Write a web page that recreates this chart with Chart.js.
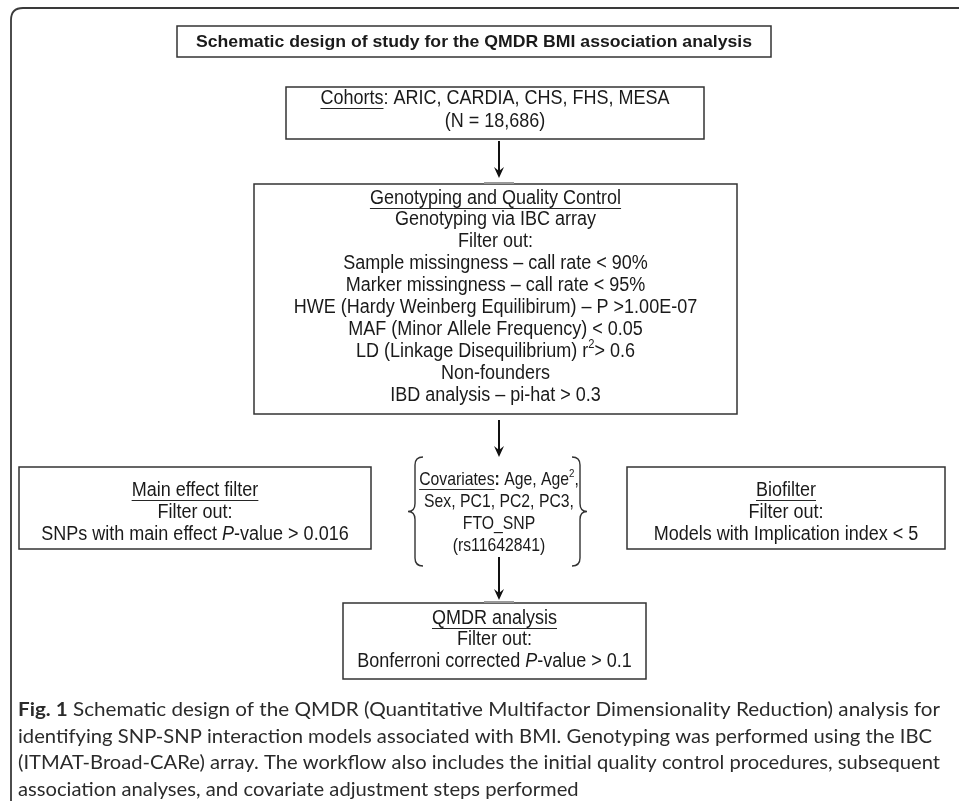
<!DOCTYPE html>
<html>
<head>
<meta charset="utf-8">
<script src="https://cdn.jsdelivr.net/npm/chart.js@4"></script>
<style>
  html, body { margin: 0; padding: 0; background: #fff; }
  canvas { display: block; }
</style>
</head>
<body>
<canvas id="flow" width="959" height="801"></canvas>
<script>
// text of each step; segments: u = underline, i = italic, b = bold, sup = superscript
const titleLines = [[{ t: 'Schematic design of study for the QMDR BMI association analysis', b: true }]];

const cohortLines = [
    [{ t: 'Cohorts', u: true }, { t: ': ARIC, CARDIA, CHS, FHS, MESA' }],
    [{ t: '(N = 18,686)' }]
];

const qcLines = [
    [{ t: 'Genotyping and Quality Control', u: true }],
    [{ t: 'Genotyping via IBC array' }],
    [{ t: 'Filter out:' }],
    [{ t: 'Sample missingness \u2013 call rate < 90%' }],
    [{ t: 'Marker missingness \u2013 call rate < 95%' }],
    [{ t: 'HWE (Hardy Weinberg Equilibirum) \u2013 P >1.00E-07' }],
    [{ t: 'MAF (Minor Allele Frequency) < 0.05' }],
    [{ t: 'LD (Linkage Disequilibrium) r' }, { t: '2', sup: true }, { t: '> 0.6' }],
    [{ t: 'Non-founders' }],
    [{ t: 'IBD analysis \u2013 pi-hat > 0.3' }]
];

const mainEffectLines = [
    [{ t: 'Main effect filter', u: true }],
    [{ t: 'Filter out:' }],
    [{ t: 'SNPs with main effect ' }, { t: 'P', i: true }, { t: '-value > 0.016' }]
];

const covariateLines = [
    [{ t: 'Covariates', u: true }, { t: ':', b: true }, { t: ' Age, Age' }, { t: '2', sup: true }, { t: ',' }],
    [{ t: 'Sex, PC1, PC2, PC3,' }],
    [{ t: 'FTO_SNP' }],
    [{ t: '(rs11642841)' }]
];

const biofilterLines = [
    [{ t: 'Biofilter', u: true }],
    [{ t: 'Filter out:' }],
    [{ t: 'Models with Implication index < 5' }]
];

const qmdrLines = [
    [{ t: 'QMDR analysis', u: true }],
    [{ t: 'Filter out:' }],
    [{ t: 'Bonferroni corrected ' }, { t: 'P', i: true }, { t: '-value > 0.1' }]
];

const captionLines = [
    [{ t: 'Fig. 1', b: true }, { t: ' Schematic design of the QMDR (Quantitative Multifactor Dimensionality Reduction) analysis for' }],
    [{ t: 'identifying SNP-SNP interaction models associated with BMI. Genotyping was performed using the IBC' }],
    [{ t: '(ITMAT-Broad-CARe) array. The workflow also includes the initial quality control procedures, subsequent' }],
    [{ t: 'association analyses, and covariate adjustment steps performed' }]
];

// layout in page units (the scales map 0..959 x 0..801)
const boxes = [
    { lines: titleLines, x0: 177, x1: 771, y0: 26, y1: 57, first: 42, step: 21, size: 17, fit: 556 },
    { lines: cohortLines, x0: 286, x1: 704, y0: 87, y1: 139, first: 98, step: 23, size: 20, hs: 0.9 },
    { lines: qcLines, x0: 254, x1: 737, y0: 184, y1: 414, first: 198, step: 21.9, size: 20, hs: 0.9 },
    { lines: mainEffectLines, x0: 19, x1: 371, y0: 467, y1: 549, first: 490, step: 22, size: 20, hs: 0.9 },
    { lines: covariateLines, x0: null, cx: 499, y0: 0, y1: 0, first: 480, step: 21.8, size: 19, hs: 0.83 },
    { lines: biofilterLines, x0: 627, x1: 945, y0: 467, y1: 549, first: 490, step: 22, size: 20, hs: 0.9 },
    { lines: qmdrLines, x0: 343, x1: 646, y0: 603, y1: 679, first: 618, step: 21.5, size: 20, hs: 0.9 }
];
const arrows = [
    { x: 499, y0: 141, y1: 178, stub: 184 },
    { x: 499, y0: 420, y1: 457 },
    { x: 499, y0: 557, y1: 600, stub: 603 }
];
const braces = [
    { x: 415, dir: -1, y0: 457, y1: 566 },
    { x: 580, dir: 1, y0: 457, y1: 566 }
];
const captionFit = [922, 914, 922, null];

const BOX_FONT = '"Liberation Sans", Arial, sans-serif';
const CAP_FONT = 'Lato, "Open Sans", sans-serif';

function fontFor(seg, size, family) {
    let s = seg.sup ? size * 0.62 : size;
    return (seg.i ? 'italic ' : '') + (seg.b ? 'bold ' : '') + s + 'px ' + family;
}

function lineWidth(ctx, segs, size, family) {
    let w = 0;
    segs.forEach(seg => {
        ctx.font = fontFor(seg, size, family);
        w += ctx.measureText(seg.t).width;
    });
    return w;
}

// draw one line of segments starting at x (left), vertical middle at y
function drawSegs(ctx, segs, x, y, size, family, color) {
    ctx.fillStyle = color;
    ctx.strokeStyle = color;
    ctx.textBaseline = 'middle';
    ctx.textAlign = 'left';
    segs.forEach(seg => {
        ctx.font = fontFor(seg, size, family);
        const w = ctx.measureText(seg.t).width;
        const yy = seg.sup ? y - size * 0.32 : y;
        ctx.fillText(seg.t, x, yy);
        if (seg.u) {
            ctx.lineWidth = 1;
            ctx.beginPath();
            ctx.moveTo(x, Math.round(y + size * 0.48) + 0.5);
            ctx.lineTo(x + w, Math.round(y + size * 0.48) + 0.5);
            ctx.stroke();
        }
        x += w;
    });
}

const flowPlugin = {
    id: 'flow',
    afterDraw(chart) {
        const ctx = chart.ctx;
        const sx = chart.scales.x, sy = chart.scales.y;
        const px = v => sx.getPixelForValue(v);
        const py = v => sy.getPixelForValue(v);
        ctx.save();

        // outer rounded frame
        ctx.strokeStyle = '#3a3a3a';
        ctx.lineWidth = 1.8;
        ctx.beginPath();
        ctx.moveTo(px(11), py(805));
        ctx.lineTo(px(11), py(20));
        ctx.quadraticCurveTo(px(11), py(8), px(23), py(8));
        ctx.lineTo(px(965), py(8));
        ctx.stroke();

        // boxes and their text
        boxes.forEach(b => {
            if (b.x0 !== null) {
                ctx.strokeStyle = '#333';
                ctx.lineWidth = 1.5;
                ctx.strokeRect(px(b.x0), py(b.y0), px(b.x1) - px(b.x0), py(b.y1) - py(b.y0));
            }
            const cx = b.x0 !== null ? (b.x0 + b.x1) / 2 : b.cx;
            b.lines.forEach((segs, k) => {
                const w = lineWidth(ctx, segs, b.size, BOX_FONT);
                const y = py(b.first + k * b.step);
                ctx.save();
                let scale = b.hs || 1;
                if (b.fit) scale = b.fit / w;
                ctx.translate(px(cx) - w * scale / 2, 0);
                ctx.scale(scale, 1);
                drawSegs(ctx, segs, 0, y, b.size, BOX_FONT, '#1a1a1a');
                ctx.restore();
            });
        });

        // arrows
        arrows.forEach(a => {
            ctx.strokeStyle = '#111';
            ctx.fillStyle = '#111';
            ctx.lineWidth = 2;
            ctx.beginPath();
            ctx.moveTo(px(a.x), py(a.y0));
            ctx.lineTo(px(a.x), py(a.y1) - 4);
            ctx.stroke();
            ctx.beginPath();
            ctx.moveTo(px(a.x), py(a.y1));
            ctx.lineTo(px(a.x) - 5, py(a.y1) - 11);
            ctx.lineTo(px(a.x), py(a.y1) - 7);
            ctx.lineTo(px(a.x) + 5, py(a.y1) - 11);
            ctx.closePath();
            ctx.fill();
            if (a.stub) {
                ctx.strokeStyle = '#999';
                ctx.lineWidth = 2;
                ctx.beginPath();
                ctx.moveTo(px(a.x - 15), py(a.stub) - 1);
                ctx.lineTo(px(a.x + 15), py(a.stub) - 1);
                ctx.stroke();
            }
        });

        // curly braces around the covariates
        braces.forEach(br => {
            const d = br.dir, x = px(br.x);
            const top = py(br.y0), bot = py(br.y1), mid = (top + bot) / 2;
            ctx.strokeStyle = '#333';
            ctx.lineWidth = 1.4;
            ctx.beginPath();
            ctx.moveTo(x - d * 8, top);
            ctx.quadraticCurveTo(x, top, x, top + 8);
            ctx.lineTo(x, mid - 8);
            ctx.quadraticCurveTo(x, mid, x + d * 7, mid);
            ctx.quadraticCurveTo(x, mid, x, mid + 8);
            ctx.lineTo(x, bot - 8);
            ctx.quadraticCurveTo(x, bot, x - d * 8, bot);
            ctx.stroke();
        });

        // caption, each full line stretched to the reference width
        const capSize = 19;
        let lastScale = 1;
        captionLines.forEach((segs, k) => {
            const w = lineWidth(ctx, segs, capSize, CAP_FONT);
            const s = captionFit[k] ? captionFit[k] / w : lastScale;
            lastScale = s;
            ctx.save();
            ctx.translate(px(18), 0);
            ctx.scale(s, 1);
            drawSegs(ctx, segs, 0, py(710 + k * 26.6), capSize, CAP_FONT, '#2b2b2b');
            ctx.restore();
        });

        ctx.restore();
    }
};

new Chart(document.getElementById('flow'), {
    type: 'scatter',
    data: { datasets: [{ data: [], pointRadius: 0 }] },
    options: {
        responsive: false,
        animation: false,
        events: [],
        layout: { padding: 0 },
        plugins: { legend: { display: false }, tooltip: { enabled: false } },
        scales: {
            x: { type: 'linear', min: 0, max: 959, display: false },
            y: { type: 'linear', min: 0, max: 801, reverse: true, display: false }
        }
    },
    plugins: [flowPlugin]
});
</script>
</body>
</html>
